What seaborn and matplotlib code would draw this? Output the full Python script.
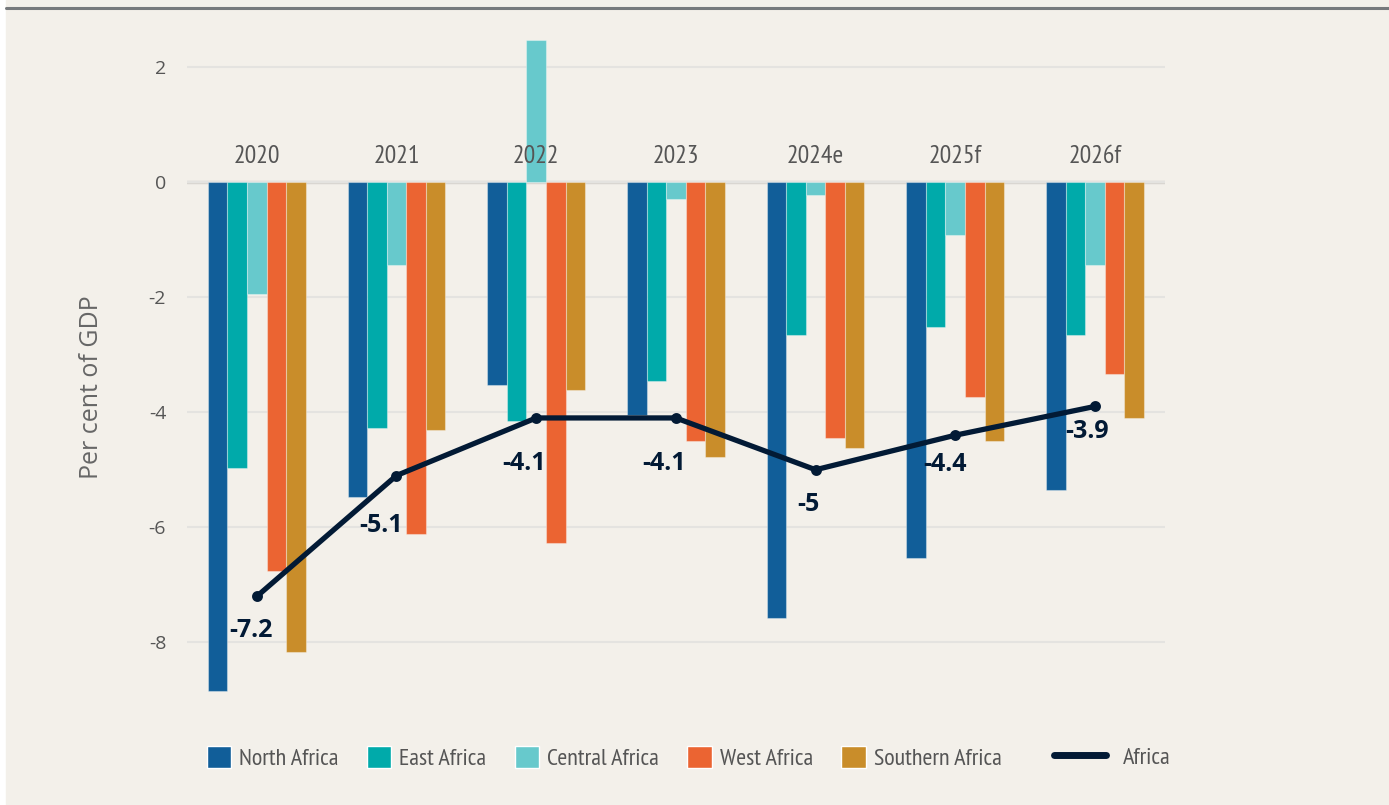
import os
import pandas as pd
import numpy as np
import seaborn as sns
import matplotlib.pyplot as plt
from matplotlib import font_manager as fm
from matplotlib.patches import Patch, Rectangle
from matplotlib.lines import Line2D

# Dados
years = ['2020', '2021', '2022', '2023', '2024e', '2025f', '2026f']
regions = ['North Africa', 'East Africa', 'Central Africa', 'West Africa', 'Southern Africa']
north = [-8.85, -5.48, -3.53, -4.05, -7.58, -6.54, -5.36]
east = [-4.97, -4.28, -4.16, -3.46, -2.66, -2.52, -2.66]
central = [-1.95, -1.44, 2.47, -0.29, -0.22, -0.92, -1.44]
west = [-6.75, -6.12, -6.28, -4.50, -4.45, -3.74, -3.34]
southern = [-8.16, -4.31, -3.62, -4.78, -4.63, -4.50, -4.10]
africa = [-7.2, -5.1, -4.1, -4.1, -5.0, -4.4, -3.9]
yticks = [-8, -6, -4, -2, 0, 2]

colors = ['#115e99', '#00aaaa', '#67c9cc', '#eb6432', '#c98d2a']
navy = '#021a35'
bg = '#f3f0ea'

# tabela longa para o seaborn
df = pd.DataFrame({'year': years * 5,
                   'region': np.repeat(regions, len(years)),
                   'value': north + east + central + west + southern})


def fonte_estreita():
    # o original usa uma fonte estreita: procura a melhor instalada, por ordem de preferencia
    prefs = ['ptsansnarrow', 'liberationsansnarrowregular', 'firasanscondensedregular',
             'robotocondensedregular', 'barlowcondensedregular', 'asapcondensedregular']
    arquivos = {}
    for f in fm.fontManager.ttflist:
        b = os.path.basename(f.fname).lower()
        for ch in '-_ ':
            b = b.replace(ch, '')
        if 'bold' in b or 'italic' in b:
            continue
        arquivos.setdefault(b, f.fname)
    for p in prefs:
        for b, caminho in sorted(arquivos.items()):
            if p in b:
                return caminho
    return None


estreita = fonte_estreita()

sns.set_theme(style='white')
plt.rcParams['font.family'] = ['Open Sans', 'DejaVu Sans']
plt.rcParams['axes.unicode_minus'] = False


def fp(size):
    if estreita:
        return fm.FontProperties(fname=estreita, size=size)
    return fm.FontProperties(family=['DejaVu Sans'], size=size * 0.85)


fig = plt.figure(figsize=(13.89, 8.05), dpi=100)
fig.patch.set_facecolor('white')
fig.add_artist(Rectangle((6 / 1389, 0), 1, 1, transform=fig.transFigure,
                         color=bg, zorder=-10))
fig.add_artist(Line2D([6 / 1389, 1], [1 - 8 / 805] * 2, transform=fig.transFigure,
                      color='#76797c', lw=2.2))

ax = fig.add_axes([0.1346, 0.1304, 0.704, 0.8224])
ax.set_facecolor(bg)

sns.barplot(data=df, x='year', y='value', hue='region', order=years, hue_order=regions,
            palette=colors, width=0.7, saturation=1, legend=False,
            edgecolor=(1, 1, 1, 0.35), linewidth=0.8, ax=ax)
sns.pointplot(x=years, y=africa, color=navy, markers='o', markersize=5,
              linewidth=3.8, ax=ax, zorder=5)

# rotulos da linha Africa (deslocamento em pixels)
label_offsets = [(-6, -34), (-15, -50), (-12, -46), (-12, -46), (-7, -35), (-10, -29), (-8, -25)]
for i, v in enumerate(africa):
    ax.annotate(f'{v:g}', (i, v), xytext=label_offsets[i], textcoords='offset pixels',
                ha='center', va='center', fontsize=18, fontweight='bold',
                family=['Open Sans', 'DejaVu Sans'], color=navy, zorder=6)

# anos acima da linha zero
for i, y in enumerate(years):
    ax.text(i, 0.45, y, ha='center', va='center', fontproperties=fp(18.5), color='#555555')

ax.set_xlim(-0.5, 6.5)
ax.set_ylim(-9.0, 2.5)
ax.set_yticks(yticks)
ax.set_yticklabels([str(t) for t in yticks], family=['Open Sans', 'DejaVu Sans'],
                   fontsize=14, color='#555555')
ax.tick_params(axis='y', length=0, pad=15)
ax.set_xticks([])
ax.set_xlabel('')
ax.set_ylabel('Per cent of GDP', family=['Open Sans', 'DejaVu Sans'], fontsize=18,
              color='#666666')
ax.yaxis.set_label_coords(-0.085, 0.473)
ax.yaxis.grid(True, color='#e4e3e0', lw=1.5)
ax.axhline(0, color='#d9d6d1', lw=2.5, zorder=0.5)
ax.set_axisbelow(True)
for s in ax.spines.values():
    s.set_visible(False)

# legendas
bar_handles = [Patch(facecolor=c, label=r) for c, r in zip(colors, regions)]
fig.legend(handles=bar_handles, loc='center left', bbox_to_anchor=(207 / 1389, 1 - 758 / 805),
           ncol=5, frameon=False, prop=fp(17.4), handlelength=1.0, handleheight=1.0,
           handletextpad=0.33, columnspacing=1.18, borderpad=0, borderaxespad=0,
           labelcolor='#555555')
fig.legend(handles=[Line2D([], [], color=navy, lw=5, label='Africa')], loc='center left',
           bbox_to_anchor=(1054 / 1389, 1 - 758 / 805), frameon=False, prop=fp(17.4),
           handlelength=2.15, handletextpad=0.7, borderpad=0, borderaxespad=0,
           labelcolor='#555555')

fig.savefig('out.png', dpi=100, facecolor=fig.get_facecolor())
